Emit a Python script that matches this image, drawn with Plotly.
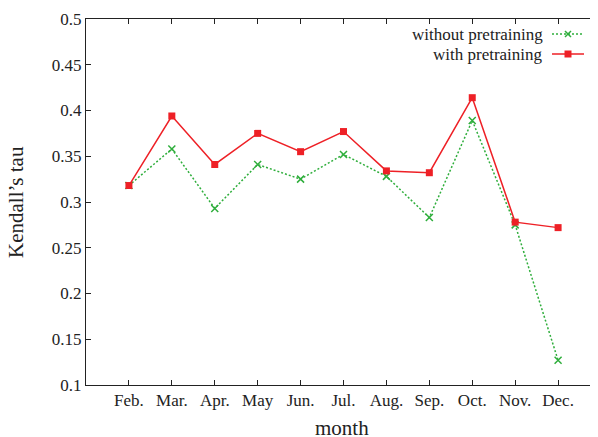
import plotly.graph_objects as go

months = ["Feb.", "Mar.", "Apr.", "May", "Jun.", "Jul.", "Aug.", "Sep.", "Oct.", "Nov.", "Dec."]
without_pretraining = [0.318, 0.358, 0.293, 0.341, 0.325, 0.352, 0.328, 0.283, 0.389, 0.275, 0.127]
with_pretraining = [0.318, 0.394, 0.341, 0.375, 0.355, 0.377, 0.334, 0.332, 0.414, 0.278, 0.272]
y_ticks = [0.1, 0.15, 0.2, 0.25, 0.3, 0.35, 0.4, 0.45, 0.5]
y_tick_labels = ["0.1", "0.15", "0.2", "0.25", "0.3", "0.35", "0.4", "0.45", "0.5"]

x_pos = list(range(1, len(months) + 1))

GREEN = "#2fae3c"
RED = "#ee2026"
AX = "#222222"
FONT = "Liberation Serif, Times New Roman, serif"

OFF = 8  # browser body margin
W, H = 598 - OFF, 437 - OFF
L, T = 86 - OFF, 19 - OFF
B = H - (385 - OFF)
R = 0
pw = W - L - R
ph = H - T - B

fig = go.Figure()
fig.add_trace(go.Scatter(
    x=x_pos, y=without_pretraining, mode="lines+markers", name="without pretraining",
    line=dict(color=GREEN, width=1.5, dash="2px,2px"),
    marker=dict(symbol="x-thin-open", size=7, line=dict(color=GREEN, width=1.5), color=GREEN),
    showlegend=False,
))
fig.add_trace(go.Scatter(
    x=x_pos, y=with_pretraining, mode="lines+markers", name="with pretraining",
    line=dict(color=RED, width=1.5),
    marker=dict(symbol="square", size=7, color=RED),
    showlegend=False,
))
# invisible trace to host the mirrored right-hand ticks
fig.add_trace(go.Scatter(x=x_pos, y=with_pretraining, yaxis="y2", mode="lines",
                         line=dict(width=0), opacity=0, hoverinfo="skip", showlegend=False))

fig.update_layout(
    width=W, height=H,
    margin=dict(l=L, r=R, t=T, b=B, pad=0),
    paper_bgcolor="white", plot_bgcolor="white",
    font=dict(family=FONT, size=17, color=AX),
    xaxis=dict(range=[0, 11.93], tickvals=x_pos, ticktext=months,
               ticks="inside", ticklen=5, tickwidth=1, tickcolor=AX,
               showline=True, linecolor=AX, linewidth=1, mirror="ticks",
               showgrid=False, zeroline=False, tickfont=dict(size=17, family=FONT)),
    yaxis=dict(range=[0.1, 0.5], tickvals=y_ticks, ticktext=y_tick_labels,
               ticks="inside", ticklen=5, tickwidth=1, tickcolor=AX,
               showline=True, linecolor=AX, linewidth=1,
               showgrid=False, zeroline=False, tickfont=dict(size=17, family=FONT)),
    yaxis2=dict(range=[0.1, 0.5], tickvals=y_ticks, overlaying="y", side="right",
                ticks="inside", ticklen=4, tickwidth=1, tickcolor=AX,
                showticklabels=False, showline=False, showgrid=False, zeroline=False),
)

def px_x(p):  # page pixel -> paper
    return (p - OFF - L) / pw

def px_y(p):
    return (H - B - (p - OFF)) / ph

# axis titles
fig.add_annotation(text="month", xref="paper", yref="paper", x=0.5, y=px_y(428),
                   xanchor="center", yanchor="middle", showarrow=False,
                   font=dict(size=21, family=FONT, color=AX))
fig.add_annotation(text="Kendall\u2019s tau", xref="paper", yref="paper", x=px_x(16), y=0.5,
                   xanchor="center", yanchor="middle", textangle=-90, showarrow=False,
                   font=dict(size=21, family=FONT, color=AX))

# legend (text right-aligned, sample on the right, gnuplot style)
rows = [("without pretraining", 34, GREEN, "dot"), ("with pretraining", 54, RED, "solid")]
for label, yy, col, style in rows:
    fig.add_annotation(text=label, xref="paper", yref="paper", x=px_x(545), y=px_y(yy),
                       xanchor="right", yanchor="middle", showarrow=False,
                       font=dict(size=17, family=FONT, color=AX))
    fig.add_shape(type="line", xref="paper", yref="paper",
                  x0=px_x(552), x1=px_x(584), y0=px_y(yy), y1=px_y(yy),
                  line=dict(color=col, width=1.5, dash="2px,2px" if style == "dot" else "solid"))
    cx = 568
    if style == "dot":
        for dx0, dy0, dx1, dy1 in [(-3, -3, 3, 3), (-3, 3, 3, -3)]:
            fig.add_shape(type="line", xref="paper", yref="paper",
                          x0=px_x(cx + dx0), y0=px_y(yy + dy0), x1=px_x(cx + dx1), y1=px_y(yy + dy1),
                          line=dict(color=col, width=1.5))
    else:
        fig.add_shape(type="rect", xref="paper", yref="paper",
                      x0=px_x(cx - 3.5), x1=px_x(cx + 3.5), y0=px_y(yy - 3.5), y1=px_y(yy + 3.5),
                      fillcolor=col, line=dict(width=0))

fig.write_html("out.html")
